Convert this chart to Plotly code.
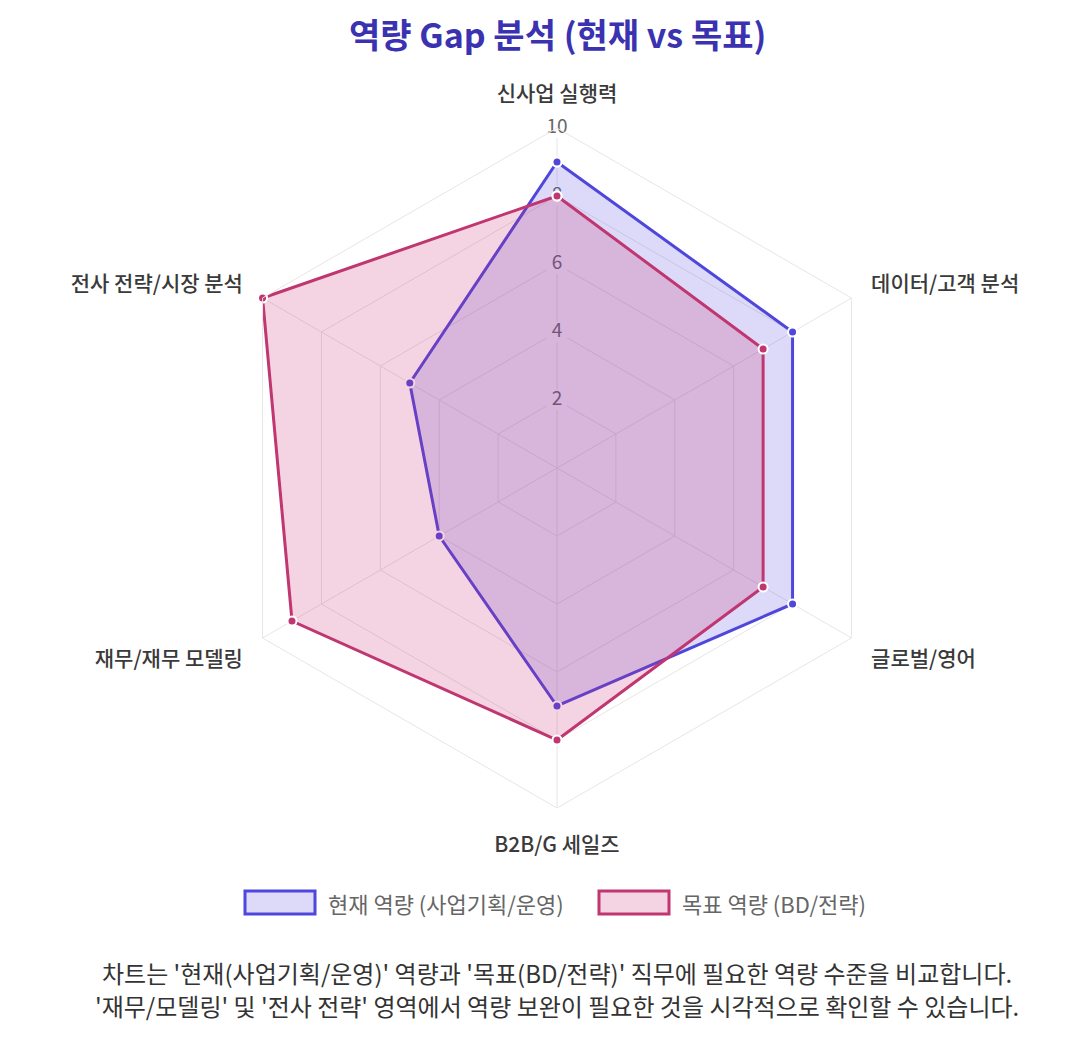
import plotly.graph_objects as go

categories = ["신사업 실행력", "데이터/고객 분석", "글로벌/영어", "B2B/G 세일즈", "재무/재무 모델링", "전사 전략/시장 분석"]
current_values = [9, 8, 8, 7, 4, 5]
target_values = [8, 7, 7, 8, 9, 10]
series_names = ["현재 역량 (사업기획/운영)", "목표 역량 (BD/전략)"]
tick_values = [2, 4, 6, 8, 10]
tick_labels = ["2", "4", "6", "8", "10"]

FONT = "Noto Sans CJK KR"
BLUE = "rgb(79,70,220)"
BLUE_FILL = "rgba(79,70,220,0.2)"
PINK = "rgb(192,54,112)"
PINK_FILL = "rgba(200,40,110,0.2)"

OFF = 8  # page body margin
W, H = 1090 - 2 * OFF, 1040 - 2 * OFF


def px(x):
    return (x - OFF) / W


def py(y):
    return 1 - (y - OFF) / H


cx, cy, R = 557, 468, 340

fig = go.Figure()

# radial tick labels with white backdrop, centred on the first spoke
fig.add_trace(go.Scatterpolar(
    r=tick_values, theta=[categories[0]] * len(tick_values),
    mode="markers+text", text=tick_labels, textposition="middle center",
    marker=dict(symbol="square", size=20, color="white"),
    textfont=dict(size=19, color="#666", family=FONT),
    showlegend=False, hoverinfo="skip",
))

for name, vals, lc, fc in [(series_names[0], current_values, BLUE, BLUE_FILL),
                           (series_names[1], target_values, PINK, PINK_FILL)]:
    fig.add_trace(go.Scatterpolar(
        r=vals + vals[:1], theta=categories + categories[:1],
        mode="lines+markers", fill="toself", fillcolor=fc,
        line=dict(color=lc, width=3),
        marker=dict(size=9, color=lc, line=dict(color="white", width=2)),
        name=name, showlegend=False, hoverinfo="skip",
    ))

fig.update_layout(
    width=W, height=H,
    margin=dict(l=0, r=0, t=0, b=0),
    paper_bgcolor="white",
    font=dict(family=FONT, color="#444"),
    polar=dict(
        domain=dict(x=[px(cx - R), px(cx + R)], y=[py(cy + R), py(cy - R)]),
        bgcolor="white",
        gridshape="linear",
        angularaxis=dict(
            rotation=90, direction="clockwise",
            gridcolor="#e6e6e6", linecolor="#e6e6e6", linewidth=1,
            tickfont=dict(size=21, color="#3a3a3a", family=FONT, weight=500),
            ticks="outside", ticklen=18, tickcolor="rgba(0,0,0,0)",
        ),
        radialaxis=dict(
            range=[0, 10], tickvals=tick_values, angle=90,
            gridcolor="#e6e6e6", showline=False, ticks="", showticklabels=False,
        ),
    ),
)

# Title
fig.add_annotation(text="<b>역량 Gap 분석 (현재 vs 목표)</b>", x=px(cx), y=py(33),
                   xref="paper", yref="paper", showarrow=False,
                   font=dict(size=34, color="#3a32b0", family=FONT), xanchor="center", yanchor="middle")

# Legend (drawn)
legend_items = [(245, series_names[0], BLUE, BLUE_FILL), (599, series_names[1], PINK, PINK_FILL)]
for x0, label, lc, fc in legend_items:
    fig.add_shape(type="rect", xref="paper", yref="paper",
                  x0=px(x0), x1=px(x0 + 70), y0=py(914), y1=py(891),
                  line=dict(color=lc, width=3), fillcolor=fc)
    fig.add_annotation(text=label, x=px(x0 + 81), y=py(903), xref="paper", yref="paper",
                       showarrow=False, xanchor="left", yanchor="middle",
                       font=dict(size=22, color="#666", family=FONT))

# Caption
caption = ["차트는 '현재(사업기획/운영)' 역량과 '목표(BD/전략)' 직무에 필요한 역량 수준을 비교합니다.",
           "'재무/모델링' 및 '전사 전략' 영역에서 역량 보완이 필요한 것을 시각적으로 확인할 수 있습니다."]
for i, line in enumerate(caption):
    fig.add_annotation(text=line, x=px(cx), y=py(972 + 33 * i), xref="paper", yref="paper",
                       showarrow=False, xanchor="center", yanchor="middle",
                       font=dict(size=24, color="#333", family=FONT))

fig.write_html("out.html")
